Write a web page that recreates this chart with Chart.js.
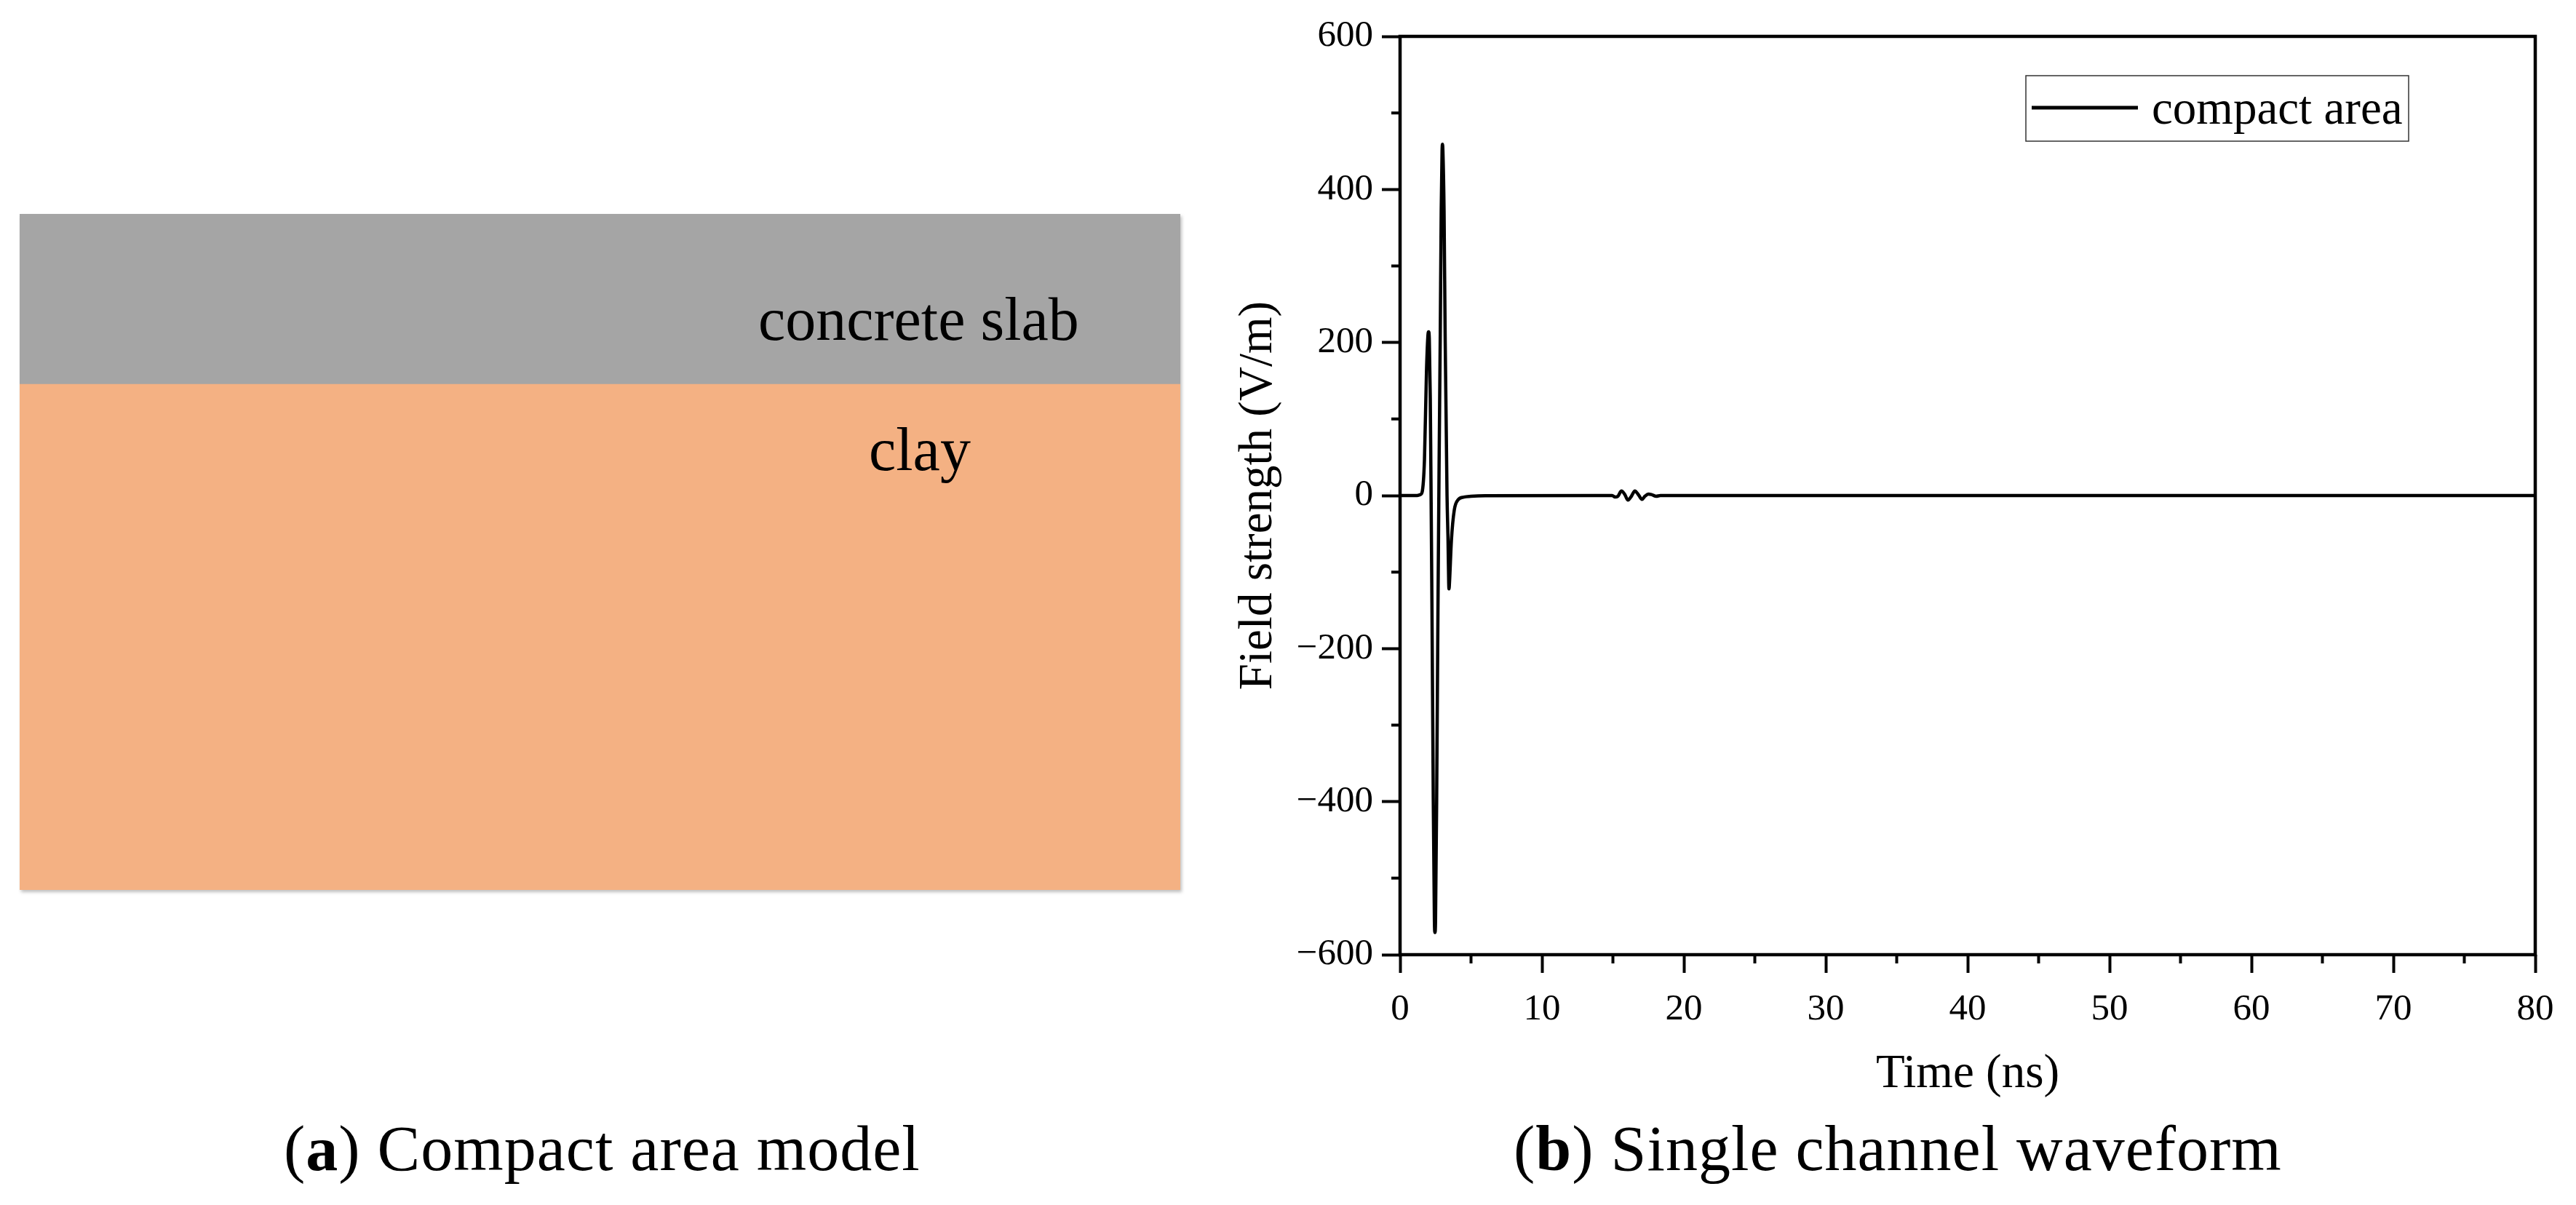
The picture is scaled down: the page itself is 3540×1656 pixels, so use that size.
<!DOCTYPE html>
<html><head><meta charset="utf-8">
<script src="https://cdn.jsdelivr.net/npm/chart.js@4"></script>
<style>
html,body{margin:0;padding:0;background:#fff;width:3540px;height:1656px;overflow:hidden}
canvas{position:absolute;display:block}
#model{left:27px;top:294px;filter:drop-shadow(2px 3px 2px rgba(0,0,0,.25))}
#wave{left:1660px;top:0}
.t{position:absolute;font-family:"Liberation Serif",serif;color:#000;line-height:1;white-space:nowrap}
</style></head><body>
<canvas id="model" width="1595" height="929"></canvas>
<canvas id="wave" width="1880" height="1656"></canvas>
<div class="t" style="left:1042px;top:397px;font-size:84px">concrete slab</div>
<div class="t" style="left:1194px;top:576px;font-size:84px">clay</div>
<div class="t" style="left:390px;top:1535px;font-size:88px;letter-spacing:1px">(<b>a</b>) Compact area model</div>
<div class="t" style="left:2080px;top:1535px;font-size:88px;letter-spacing:1px">(<b>b</b>) Single channel waveform</div>
<script>
const layerNames = ["clay", "concrete slab"];
const layerThickness = [695, 234];
const layerColors = ["#F4B183", "#A5A5A5"];

const times = [0, 1.2, 1.34, 1.45, 1.55, 1.72, 1.86, 1.96, 2.01, 2.06, 2.13, 2.17, 2.25, 2.34, 2.42, 2.46, 2.5, 2.58, 2.67, 2.75, 2.83, 2.9, 2.96, 2.99, 3.02, 3.1, 3.18, 3.31, 3.38, 3.43, 3.45, 3.48, 3.62, 3.82, 4.07, 4.5, 5, 6,
  14.95, 15.15, 15.35, 15.6, 15.85, 16.05, 16.3, 16.55, 16.8, 17.05, 17.25, 17.5, 17.75, 18.05, 18.35, 30, 50, 80];
const fieldStrength = [0, 0, 0.5, 1.5, 4, 47, 161, 208, 214, 205, 127, 39, -150, -397, -555, -571, -555, -397, -150, 39, 204, 373, 450, 459, 450, 373, 204, 0, -58, -115, -122, -115, -58, -19, -6, -2, -1, -0.3,
  0, -2, -1, 6, 1, -6, -1, 6, 1, -5, -1, 2, 1, -1, 0, 0, 0, 0];

const xTickLabels = ["0", "10", "20", "30", "40", "50", "60", "70", "80"];
const yTickLabels = ["−600", "−400", "−200", "0", "200", "400", "600"];
const xMinorTicks = [5, 15, 25, 35, 45, 55, 65, 75];
const yMinorTicks = [-500, -300, -100, 100, 300, 500];
const seriesName = "compact area";
const xTitle = "Time (ns)";
const yTitle = "Field strength (V/m)";
const serif = "Liberation Serif";

new Chart(document.getElementById("model"), {
  type: "bar",
  data: {
    labels: ["model"],
    datasets: layerNames.map((n, i) => ({
      label: n, data: [layerThickness[i]], backgroundColor: layerColors[i],
      barPercentage: 1, categoryPercentage: 1, borderWidth: 0
    }))
  },
  options: {
    responsive: false, animation: false, devicePixelRatio: 1,
    layout: { padding: 0 },
    plugins: { legend: { display: false }, tooltip: { enabled: false } },
    scales: {
      x: { display: false, stacked: true },
      y: { display: false, stacked: true, min: 0, max: 929 }
    }
  }
});

const framePlugin = {
  id: "frame",
  afterDraw(chart) {
    const { ctx, chartArea: a, scales: { x, y } } = chart;
    ctx.save();
    ctx.strokeStyle = "#000";
    ctx.lineWidth = 4.5;
    ctx.strokeRect(a.left, a.top, a.right - a.left, a.bottom - a.top);
    ctx.lineWidth = 4;
    ctx.beginPath();
    xMinorTicks.forEach(v => { const p = x.getPixelForValue(v); ctx.moveTo(p, a.bottom); ctx.lineTo(p, a.bottom + 12); });
    yMinorTicks.forEach(v => { const p = y.getPixelForValue(v); ctx.moveTo(a.left, p); ctx.lineTo(a.left - 12, p); });
    ctx.stroke();
    // legend
    const lx = 2784 - 1660, ly = 104, lw = 526, lh = 90;
    ctx.lineWidth = 1.5;
    ctx.strokeStyle = "#333";
    ctx.strokeRect(lx, ly, lw, lh);
    ctx.strokeStyle = "#000";
    ctx.lineWidth = 5;
    ctx.beginPath();
    ctx.moveTo(lx + 8, ly + 44);
    ctx.lineTo(lx + 154, ly + 44);
    ctx.stroke();
    ctx.fillStyle = "#000";
    ctx.font = "65px '" + serif + "'";
    ctx.textBaseline = "alphabetic";
    ctx.textAlign = "left";
    ctx.fillText(chart.data.datasets[0].label, lx + 173, ly + 66);
    ctx.restore();
  }
};

new Chart(document.getElementById("wave"), {
  type: "line",
  data: {
    datasets: [{
      label: seriesName,
      data: times.map((t, i) => ({ x: t, y: fieldStrength[i] })),
      borderColor: "#000", borderWidth: 4.5, pointRadius: 0,
      cubicInterpolationMode: "monotone", borderJoinStyle: "round", borderCapStyle: "round"
    }]
  },
  options: {
    responsive: false, animation: false, devicePixelRatio: 1,
    layout: { padding: { left: 31, top: 50, right: 56, bottom: 140 } },
    plugins: { legend: { display: false }, tooltip: { enabled: false } },
    scales: {
      x: {
        type: "linear", min: 0, max: 80,
        afterFit(s) { s.height = 204; },
        afterBuildTicks(s) { s.ticks = xTickLabels.map((_, i) => ({ value: i * 10 })); },
        grid: { drawOnChartArea: false, drawTicks: true, tickLength: 25, tickWidth: 4, tickColor: "#000" },
        border: { display: false },
        ticks: { color: "#000", font: { family: serif, size: 51 }, padding: 20, maxRotation: 0, autoSkip: false,
          callback: (v) => xTickLabels[v / 10] },
        title: { display: true, text: xTitle, color: "#000", font: { family: serif, size: 65 }, padding: { top: 0, bottom: 0 } }
      },
      y: {
        min: -600, max: 600,
        afterFit(s) { s.width = 233; },
        afterBuildTicks(s) { s.ticks = yTickLabels.map((_, i) => ({ value: -600 + i * 200 })); },
        grid: { drawOnChartArea: false, drawTicks: true, tickLength: 25, tickWidth: 4, tickColor: "#000" },
        border: { display: false },
        ticks: { color: "#000", font: { family: serif, size: 51 }, padding: 12, autoSkip: false,
          callback: (v) => yTickLabels[(v + 600) / 200] },
        title: { display: true, text: yTitle, color: "#000", font: { family: serif, size: 65 }, padding: { top: 0, bottom: 0 } }
      }
    }
  },
  plugins: [framePlugin]
});
</script>
</body></html>
